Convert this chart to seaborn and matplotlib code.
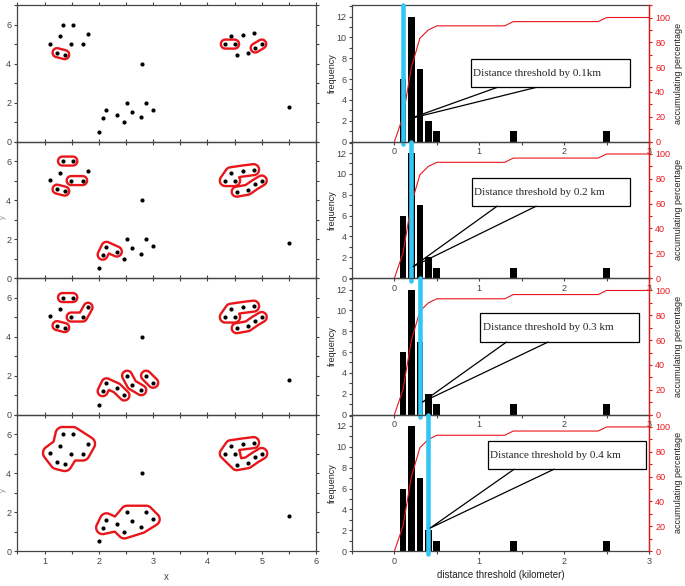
import numpy as np
import matplotlib
matplotlib.use("Agg")
import matplotlib.pyplot as plt
import seaborn as sns
from matplotlib.ticker import MultipleLocator
from matplotlib.patches import Rectangle

# sample points (left column)
pt_x = [1.10, 1.33, 1.52, 1.28, 1.49, 1.70, 1.80, 1.23, 1.37,
        2.00, 2.07, 2.14, 2.33, 2.47, 2.52, 2.61, 2.78, 2.87, 3.00, 2.79,
        4.33, 4.43, 4.50, 4.54, 4.65, 4.74, 4.85, 4.88, 5.00, 5.50]
pt_y = [5.03, 6.00, 6.00, 5.40, 5.00, 5.00, 5.50, 4.56, 4.46,
        0.51, 1.20, 1.60, 1.36, 0.98, 1.99, 1.53, 1.25, 1.99, 1.63, 4.00,
        5.00, 5.40, 5.00, 4.43, 5.49, 4.53, 5.56, 4.80, 5.00, 1.78]

thresholds = [0.1, 0.2, 0.3, 0.4]
box_texts = ["Distance threshold by 0.1km", "Distance threshold by 0.2 km",
             "Distance threshold by 0.3 km", "Distance threshold by 0.4 km"]

# clusters at each threshold, every cluster given as chains of point indices
clusters = [
    [[[7, 8]], [[20, 22]], [[27, 28]]],
    [[[1, 2]], [[4, 5]], [[7, 8]],
     [[20, 22, 21, 20], [21, 24, 26]], [[23, 25, 27, 28]], [[10, 11, 12]]],
    [[[1, 2]], [[4, 5, 6]], [[7, 8]],
     [[20, 22, 21, 20], [21, 24, 26]], [[23, 25, 27, 28]],
     [[10, 11, 12, 13]], [[14, 15, 16]], [[17, 18]]],
    [[[0, 3, 1, 2, 6, 5, 4, 8, 7, 0], [3, 4, 2], [1, 4], [3, 7], [3, 8]],
     [[20, 21, 24, 26], [20, 22, 21], [22, 23, 25, 27, 28], [20, 23]],
     [[10, 11, 12, 10], [12, 13, 15, 12, 14, 15, 16, 13], [14, 17, 15], [16, 18, 17, 16]]],
]
# outline offset from the points, px
blob_radius = [[4.5] * 3, [4.5, 4.5, 4.5, 5.5, 5, 5], [4.5, 4.5, 4.5, 5.5, 5, 5, 5, 5], [7, 5.5, 6.5]]

# histogram of distances (right column)
bin_x = [0.1, 0.2, 0.3, 0.4, 0.5, 1.4, 2.5]
freq = [6, 12, 7, 2, 1, 1, 1]
cum_x = [0, 0.1, 0.2, 0.3, 0.4, 0.5, 1.3, 1.4, 2.4, 2.5, 3.0]
cum_pct = [0, 20, 60, 83.3, 90, 93.3, 93.3, 96.7, 96.7, 100, 100]

# callout boxes: x0, x1, y0, y1, base1, base2, tip x, tip y
callouts = [(0.90, 2.78, 5.2, 7.95, 1.21, 1.67, 0.18, 2.2),
            (0.91, 2.78, 6.9, 9.6, 1.21, 1.67, 0.22, 1.1),
            (1.01, 2.88, 6.96, 9.7, 1.32, 1.81, 0.33, 1.2),
            (1.10, 2.96, 7.85, 10.56, 1.41, 1.88, 0.42, 2.2)]

sns.set_style("ticks")
plt.rcParams["font.family"] = ["Liberation Sans", "DejaVu Sans"]

red = "#e8161b"
grey = "#444444"

fig = plt.figure(figsize=(6.85, 5.86), dpi=100)
row_h = 0.2329
bottom0 = 0.0597

gx = np.linspace(0.5, 6, 700)
gy = np.linspace(0, 7, 360)
GX, GY = np.meshgrid(gx, gy)

for i in range(4):
    b = bottom0 + (3 - i) * row_h
    axl = fig.add_axes([0.0255, b, 0.4358, row_h])
    axr = fig.add_axes([0.5139, b, 0.4336, row_h])
    for a in (axl, axr):
        a.set_facecolor("none")
        for s in a.spines.values():
            s.set_color(grey)
            s.set_linewidth(0.9)

    # ---- left: points and cluster outlines
    sns.scatterplot(x=pt_x, y=pt_y, color="black", s=9, linewidth=0, ax=axl, zorder=3)
    axl.set_xlim(0.5, 6)
    axl.set_ylim(0, 7)
    sx = axl.bbox.width / 5.5
    sy = axl.bbox.height / 7
    PX, PY = (GX - 0.5) * sx, GY * sy
    for cl, r in zip(clusters[i], blob_radius[i]):
        D = np.full(GX.shape, np.inf)
        for chain in cl:
            for p, q in zip(chain[:-1], chain[1:]):
                ax_, ay_ = (pt_x[p] - 0.5) * sx, pt_y[p] * sy
                dx, dy = (pt_x[q] - pt_x[p]) * sx, (pt_y[q] - pt_y[p]) * sy
                t = np.clip(((PX - ax_) * dx + (PY - ay_) * dy) / (dx * dx + dy * dy), 0, 1)
                D = np.minimum(D, np.hypot(PX - ax_ - t * dx, PY - ay_ - t * dy))
        axl.contour(GX, GY, D, levels=[r], colors=red, linewidths=1.7)

    axl.xaxis.set_major_locator(MultipleLocator(1))
    axl.xaxis.set_minor_locator(MultipleLocator(0.5))
    axl.yaxis.set_major_locator(MultipleLocator(2))
    axl.yaxis.set_minor_locator(MultipleLocator(1))
    axl.tick_params(which="both", direction="out", length=2.5, width=0.8, top=True, right=True,
                    labelsize=6.5, colors=grey, pad=2)
    if i < 3:
        axl.tick_params(labelbottom=False)
    else:
        axl.set_xlabel("x", fontsize=7, color=grey)
    if i in (1, 3):
        axl.set_ylabel("y", fontsize=5.5, color="#999999")
        axl.yaxis.set_label_coords(-0.036, 0.45)

    # ---- right: histogram + cumulative percentage
    sns.barplot(x=bin_x, y=freq, native_scale=True, color="black", saturation=1,
                width=0.8, errorbar=None, linewidth=0, ax=axr)
    for p in axr.patches:
        c = p.get_x() + p.get_width() / 2
        p.set_width(0.08)
        p.set_x(c - 0.04)
        p.set_edgecolor("black")
        p.set_linewidth(0)
    axr.set_xlim(-0.5, 3)
    axr.set_ylim(0, 13.1)
    axr.xaxis.set_major_locator(MultipleLocator(1))
    axr.xaxis.set_minor_locator(MultipleLocator(0.5))
    axr.yaxis.set_major_locator(MultipleLocator(2))
    axr.yaxis.set_minor_locator(MultipleLocator(1))
    axr.tick_params(which="both", direction="out", length=2.5, width=0.8,
                    labelsize=6.5, colors=grey, pad=1.5)
    axr.set_ylabel("frequency", fontsize=6.5, labelpad=0, color="#222222")
    axr.set_xlabel("")

    ax2 = axr.twinx()
    sns.lineplot(x=cum_x, y=cum_pct, ax=ax2, color=red, linewidth=0.8)
    ax2.set_ylim(0, 110)
    ax2.yaxis.set_major_locator(MultipleLocator(20))
    ax2.yaxis.set_minor_locator(MultipleLocator(10))
    ax2.tick_params(axis="y", which="both", direction="out", length=2.5, width=0.8,
                    labelsize=6.5, colors=red, pad=2)
    ax2.spines["right"].set_color(red)
    ax2.spines["right"].set_linewidth(0.9)
    for s in ("left", "top", "bottom"):
        ax2.spines[s].set_visible(False)
    ax2.set_ylabel("accumulating percentage", fontsize=6.5, color="#222222", labelpad=3)

    ax2.axvline(thresholds[i], ymin=-0.02, ymax=1.0, color="#33c6f4", lw=3.3,
                clip_on=False, zorder=3)

    x0, x1, y0, y1, b1, b2, tx, ty = callouts[i]
    ax2.add_patch(Rectangle((x0, y0), x1 - x0, y1 - y0, transform=axr.transData,
                            facecolor="white", edgecolor="black", lw=0.9, zorder=4))
    ax2.plot([b1, tx, b2], [y0, ty, y0], transform=axr.transData, color="black",
             lw=0.9, zorder=4)
    ax2.text(x0 + 0.03, (y0 + y1) / 2, box_texts[i], transform=axr.transData,
             family=["Liberation Serif", "DejaVu Serif"], fontsize=8, va="center",
             ha="left", zorder=5)

    if i == 3:
        axr.set_xlabel("distance threshold (kilometer)", fontsize=7, color="#222222", labelpad=3)

fig.savefig("out.png", dpi=100)
